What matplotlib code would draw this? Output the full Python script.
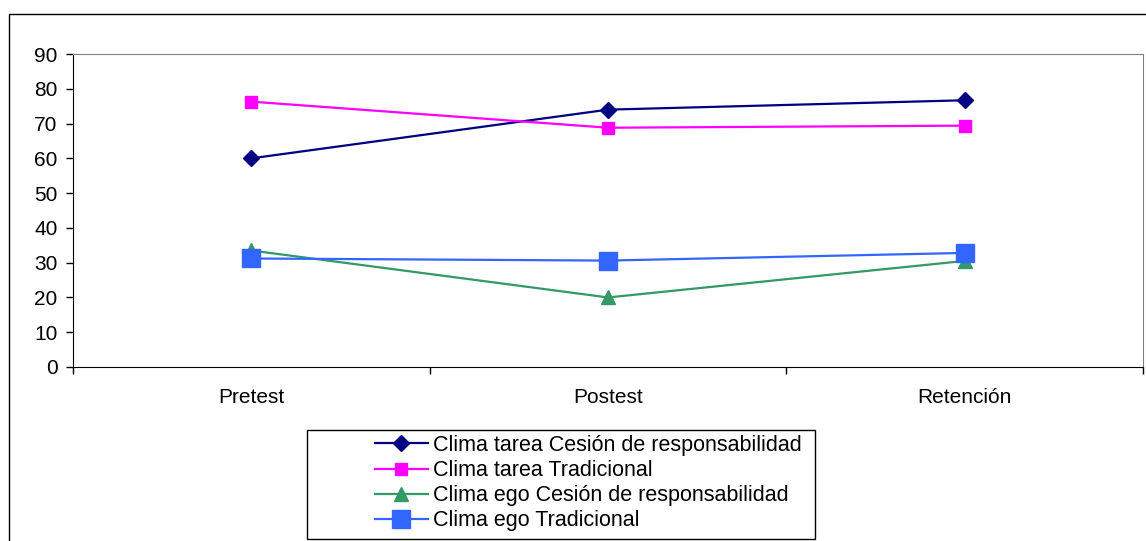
import matplotlib.pyplot as plt
from matplotlib.patches import Rectangle

plt.rcParams['font.family'] = ['Liberation Sans', 'DejaVu Sans']

# Data
momentos = ['Pretest', 'Postest', 'Retención']
tarea_cesion = [60, 74, 76.7]
tarea_tradicional = [76.3, 68.8, 69.4]
ego_cesion = [33.5, 20, 30.5]
ego_tradicional = [31.2, 30.6, 32.8]

series = [
    ('Clima tarea Cesión de responsabilidad', tarea_cesion, '#000080', 'D', 8),
    ('Clima tarea Tradicional', tarea_tradicional, '#FF00FF', 's', 8),
    ('Clima ego Cesión de responsabilidad', ego_cesion, '#339966', '^', 10),
    ('Clima ego Tradicional', ego_tradicional, '#3366FF', 's', 13.5),
]

fig = plt.figure(figsize=(11.46, 5.41), dpi=100)
ax = fig.add_axes([73 / 1146, 1 - 367 / 541, (1143 - 73) / 1146, (367 - 54) / 541])

x = [i + 0.5 for i in range(len(momentos))]
handles = []
for label, vals, color, marker, ms in series:
    h, = ax.plot(x, vals, color=color, marker=marker, markersize=ms,
                 linewidth=1.6, label=label, clip_on=False)
    handles.append(h)

ax.set_xlim(0, 3)
ax.set_ylim(0, 90)
ax.set_yticks(range(0, 91, 10))
ax.set_xticks([0, 1, 2, 3])
ax.set_xticklabels([])
ax.set_xticks(x, minor=True)
ax.set_xticklabels(momentos, minor=True)
ax.tick_params(axis='x', which='minor', length=0, pad=15, labelsize=15)
ax.tick_params(axis='x', which='major', length=5, width=1)
ax.tick_params(axis='y', length=5, width=1, pad=6, labelsize=15)

for side in ['top', 'right']:
    ax.spines[side].set_color('#808080')
for side in ['left', 'bottom']:
    ax.spines[side].set_color('black')

# outer chart frame
fig.patches.append(Rectangle((9 / 1146, -0.1), 1.2, 1 - 14 / 541 + 0.1,
                             transform=fig.transFigure, fill=False,
                             edgecolor='black', linewidth=1, clip_on=False))

# legend box
fig.patches.append(Rectangle((307 / 1146, 1 - 539 / 541), (815 - 307) / 1146,
                             (539 - 430) / 541, transform=fig.transFigure,
                             fill=False, edgecolor='black', linewidth=1))

fig.legend(handles=handles, loc='upper left',
           bbox_to_anchor=(375 / 1146, 1 - 435 / 541),
           frameon=False, fontsize=15.5, handlelength=2.45, handletextpad=0.25,
           labelspacing=0.19, borderpad=0, borderaxespad=0)

fig.savefig('out.png', dpi=100)
